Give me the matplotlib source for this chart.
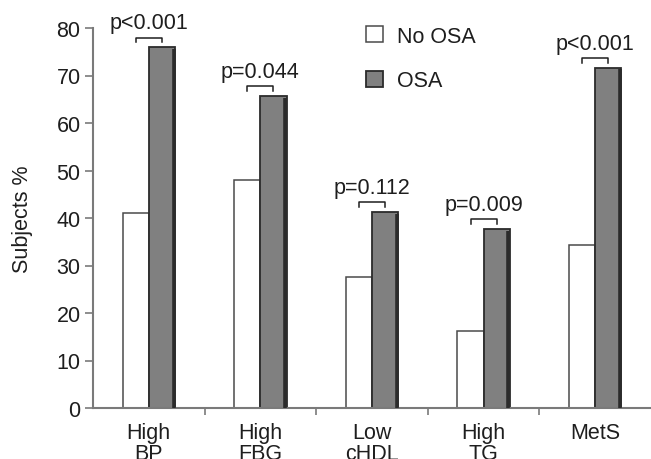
import numpy as np
import matplotlib
matplotlib.use('Agg')
import matplotlib.pyplot as plt
from matplotlib import rcParams

rcParams['font.family'] = 'sans-serif'
rcParams['font.sans-serif'] = ['Liberation Sans', 'Arial', 'DejaVu Sans']

# data
categories = ['High\nBP', 'High\nFBG', 'Low\ncHDL', 'High\nTG', 'MetS']
no_osa     = [41.1, 48.1, 27.6, 16.2, 34.3]
osa        = [75.9, 65.6, 41.2, 37.6, 71.6]
p_labels   = ['p<0.001', 'p=0.044', 'p=0.112', 'p=0.009', 'p<0.001']
series     = ['No OSA', 'OSA']

COL_WHITE  = '#ffffff'
COL_GREY   = '#808080'
COL_EDGE   = '#4a4a4a'
COL_SHADE  = '#2b2b2b'
COL_AXIS   = '#7a7a7a'
COL_TEXT   = '#1e1e1e'
FS         = 15.5

fig = plt.figure(figsize=(6.51, 4.60), dpi=100)
ax = fig.add_axes([93 / 651, 51 / 460, 558 / 651, 380 / 460])

x = np.arange(len(categories))
w = 0.235

b1 = ax.bar(x - w / 2, no_osa, w, color=COL_WHITE, edgecolor=COL_EDGE,
            linewidth=1.1, label=series[0], zorder=2)
b2 = ax.bar(x + w / 2, osa, w, color=COL_GREY, edgecolor=COL_SHADE,
            linewidth=1.3, label=series[1], zorder=2)
# darker right-hand edge on the grey bars (pseudo 3-D look)
ax.vlines(x + w - 0.012, 0, np.array(osa) - 0.3, color=COL_SHADE,
          linewidth=2.6, zorder=3)

# significance brackets
bw, drop = 0.117, 1.0
for xi, v, lbl in zip(x, osa, p_labels):
    yb = v + 2.1
    ax.plot([xi - bw, xi - bw, xi + bw, xi + bw],
            [yb - drop, yb, yb, yb - drop], color=COL_TEXT, lw=1.1,
            zorder=3, clip_on=False)
    ax.text(xi, yb + 0.9, lbl, ha='center', va='bottom', fontsize=FS,
            color=COL_TEXT)

ax.set_xlim(-0.5, len(categories) - 0.5)
ax.set_ylim(0, 80)
ax.set_yticks(np.arange(0, 81, 10))
ax.set_xticks(x)
ax.set_xticklabels(categories, fontsize=FS, color=COL_TEXT, linespacing=1.0)
ax.set_xticks(x[:-1] + 0.5, minor=True)
ax.tick_params(axis='x', which='major', length=0, pad=10)
ax.tick_params(axis='x', which='minor', length=5, width=1.2, color=COL_AXIS,
               direction='out')
ax.tick_params(axis='y', length=6, width=1.2, color=COL_AXIS, labelsize=FS,
               labelcolor=COL_TEXT, pad=3)

for side in ('top', 'right'):
    ax.spines[side].set_visible(False)
for side in ('left', 'bottom'):
    ax.spines[side].set_color(COL_AXIS)
    ax.spines[side].set_linewidth(1.5)

ax.set_ylabel('Subjects %', fontsize=FS, color=COL_TEXT)
ax.yaxis.set_label_coords(-0.107, 0.5)

leg = ax.legend(handles=[b1, b2], loc='center left',
                bbox_to_anchor=(366 / 651, 1 - 59.5 / 460),
                bbox_transform=fig.transFigure, frameon=False, fontsize=FS,
                handlelength=0.8, handleheight=0.8, handletextpad=0.65,
                labelspacing=1.1, borderpad=0, borderaxespad=0)
for t in leg.get_texts():
    t.set_color(COL_TEXT)

fig.savefig('out.png', dpi=100)
